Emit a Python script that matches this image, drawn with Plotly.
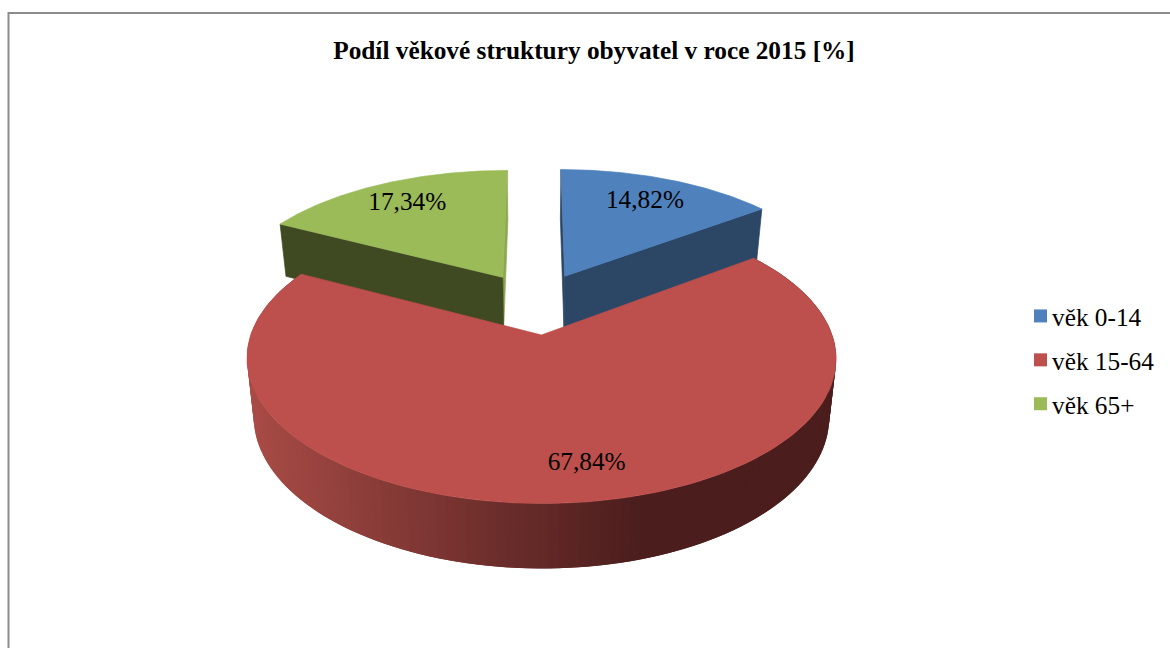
import numpy as np
import plotly.graph_objects as go

# --- chart data ---
TITLE = "Podíl věkové struktury obyvatel v roce 2015 [%]"
categories = ["věk 0-14", "věk 15-64", "věk 65+"]
values = [14.82, 67.84, 17.34]

# --- styles ---
top_colors = ["#4F81BD", "#BD4F4C", "#9BBB59"]
wall_colors = ["#2C4666", None, "#404A22"]
sliver_colors = ["#2C4666", None, "#8BA852"]
wall_light = np.array([170, 76, 71])
wall_dark = np.array([75, 30, 29])
FONT = "Liberation Serif"
FONT_SIZE = 25.3

# --- projection of the 3D pie onto the page (pixel-mapped axes) ---
W, H = 1170, 648
CX, Y0, A, B, K = 536.0, 303.0, 280.0, 131.0, 0.156
EXPLODE, DEPTH, SHRINK = 0.236, 56.0, 0.023
# label placement: radius and angular shift (degrees) from the slice middle
label_radius = [0.75, 0.805, 0.77]
label_shift = [0.0, -5.0, 0.0]


def project(X, Y, z=0.0):
    X, Y = np.asarray(X, float), np.asarray(Y, float)
    s = 1.0 / (1.0 + K * Y)
    x = CX + A * X * s * (1 - SHRINK * z)
    y = Y0 - B * Y * s + DEPTH * s ** 0.7 * z
    return x, y


total = sum(values)
edges = np.concatenate([[0.0], np.cumsum(values)]) / total * 2 * np.pi
slices = []
for i in range(len(values)):
    a0, a1 = edges[i], edges[i + 1]
    mid = (a0 + a1) / 2
    slices.append((a0, a1, EXPLODE * np.sin(mid), EXPLODE * np.cos(mid)))


def poly(xs, ys, color, lw=0.7):
    return go.Scatter(
        x=list(xs) + [xs[0]], y=list(ys) + [ys[0]], mode="lines", fill="toself",
        fillcolor=color, line=dict(color=color, width=lw),
        hoverinfo="skip", showlegend=False,
    )


def radial_wall(i, angle, color):
    _, _, ox, oy = slices[i]
    px = np.array([ox, ox + np.sin(angle)])
    py = np.array([oy, oy + np.cos(angle)])
    xt, yt = project(px, py, 0)
    xb, yb = project(px, py, 1)
    return poly([xt[0], xt[1], xb[1], xb[0]], [yt[0], yt[1], yb[1], yb[0]], color)


def top_face(i, color):
    a0, a1, ox, oy = slices[i]
    th = np.linspace(a0, a1, 160)
    px = np.concatenate([[ox], ox + np.sin(th)])
    py = np.concatenate([[oy], oy + np.cos(th)])
    x, y = project(px, py, 0)
    return poly(x, y, color)


fig = go.Figure()

# back slices: side walls
blue, red, green = 0, 1, 2
fig.add_trace(radial_wall(green, slices[green][1], sliver_colors[green]))
fig.add_trace(radial_wall(green, slices[green][0], wall_colors[green]))
fig.add_trace(radial_wall(blue, slices[blue][0], sliver_colors[blue]))
fig.add_trace(radial_wall(blue, slices[blue][1], wall_colors[blue]))
fig.add_trace(top_face(blue, top_colors[blue]))
fig.add_trace(top_face(green, top_colors[green]))

# red slice: outer wall with a horizontal shading (overlapping strips, no seams)
a0, a1, ox, oy = slices[red]
th = np.linspace(a0, a1, 141)
px, py = ox + np.sin(th), oy + np.cos(th)
xt, yt = project(px, py, 0)
xb, yb = project(px, py, 1)
order = range(len(th) - 3, -1, -1)  # paint from right to left along the arc
for j in order:
    xm = (xb[j] + xb[j + 1]) / 2
    t = np.clip((xm - 254) / (650 - 254), 0, 1)
    c = (1 - t) * wall_light + t * wall_dark
    col = "rgb(%d,%d,%d)" % tuple(c)
    fig.add_trace(poly([xt[j], xt[j + 2], xb[j + 2], xb[j]],
                       [yt[j], yt[j + 2], yb[j + 2], yb[j]], col, lw=0))
fig.add_trace(top_face(red, top_colors[red]))

# value labels
lab_x, lab_y, lab_t = [], [], []
for i, (a0, a1, ox, oy) in enumerate(slices):
    ang = (a0 + a1) / 2 + np.radians(label_shift[i])
    r = label_radius[i]
    lx, ly = project(ox + r * np.sin(ang), oy + r * np.cos(ang), 0)
    lab_x.append(float(lx))
    lab_y.append(float(ly))
    lab_t.append(f"{values[i]:.2f}".replace(".", ",") + "%")
fig.add_trace(go.Scatter(x=lab_x, y=lab_y, mode="text", text=lab_t,
                         textposition="middle center",
                         textfont=dict(family=FONT, size=FONT_SIZE, color="black"),
                         hoverinfo="skip", showlegend=False))

# legend entries
for i, name in enumerate(categories):
    fig.add_trace(go.Scatter(x=[None], y=[None], mode="markers", name=name,
                             legendgroup=name,
                             marker=dict(symbol="square", size=13, color=top_colors[i])))

fig.update_layout(
    width=W, height=H, autosize=False,
    margin=dict(l=0, r=0, t=0, b=0),
    paper_bgcolor="white", plot_bgcolor="white",
    title=dict(text=f"<b>{TITLE}</b>", x=594 / W, y=1 - 50 / H,
               xanchor="center", yanchor="middle",
               font=dict(family=FONT, size=FONT_SIZE, color="black")),
    xaxis=dict(range=[0, W], visible=False, fixedrange=True),
    yaxis=dict(range=[H, 0], visible=False, fixedrange=True),
    legend=dict(x=1012 / W, y=1 - 293 / H, xanchor="left", yanchor="top",
                font=dict(family=FONT, size=FONT_SIZE, color="black"),
                tracegroupgap=8, itemsizing="trace", bgcolor="rgba(0,0,0,0)"),
    shapes=[dict(type="path", xref="paper", yref="paper",
                 path=f"M {8.5 / W} 0 L {8.5 / W} {1 - 13 / H} L 1 {1 - 13 / H}",
                 line=dict(color="#8C8C8C", width=2))],
)

post = """
document.body.style.margin = '0';
document.querySelectorAll('.legendsymbols').forEach(function (n) {
  n.setAttribute('transform', 'translate(8.5,0)');
});
"""
fig.write_html("out.html", config={"displayModeBar": False}, post_script=post)
